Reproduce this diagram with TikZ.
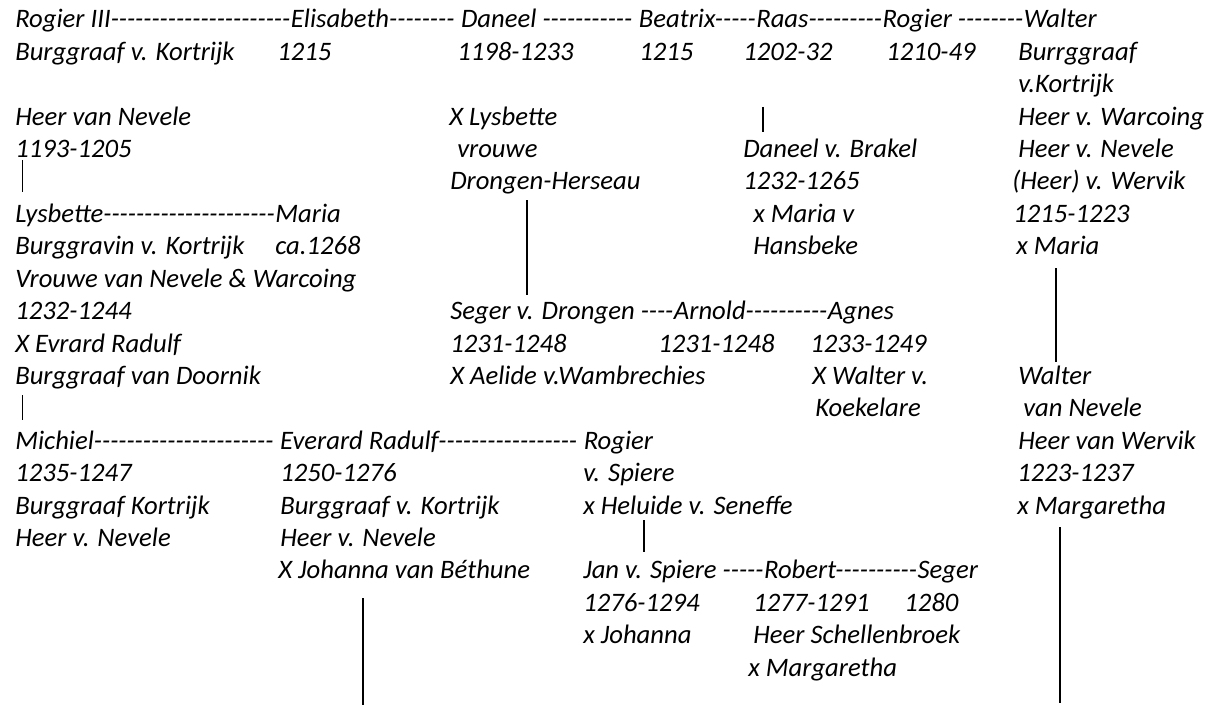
\documentclass[tikz,border=0pt]{standalone}
\usepackage{fontspec}
\setmainfont{Carlito}[Ligatures=TeXOff]
\usepackage{tikz}

\begin{document}
\begin{tikzpicture}[x=0.75pt,y=-0.75pt]
    \tikzstyle{every node}+=[inner sep=0pt, anchor=base west, font=\fontsize{20}{24}\selectfont\itshape]
    \tikzstyle{bar}=[black, line width=1.1pt]
    \useasboundingbox (0,0) rectangle (1218,710);
    % top row
    \node (rogier) at (15,28) {Rogier III----------------------};
    \node (elisabeth) at (rogier.base east) {Elisabeth--------\ \mbox{}};
    \node (daneel) at (elisabeth.base east) {Daneel -----------\ \mbox{}};
    \node (beatrix) at (daneel.base east) {Beatrix-----};
    \node (raas) at (beatrix.base east) {Raas---------};
    \node (rogierb) at (raas.base east) {Rogier --------};
    \node (walter) at (rogierb.base east) {Walter};
    \node (rogier2) at (15,60.4) {Burggraaf v. Kortrijk};
    \node (rogier3) at (15,125.2) {Heer van Nevele};
    \node (rogier4) at (15,157.6) {1193-1205};
    \node (elisabeth2) at (277,60.4) {1215};
    \node (daneel2) at (457,60.4) {1198-1233};
    \node (daneel3) at (449,125.2) {X Lysbette};
    \node (daneel4) at (457,157.6) {vrouwe};
    \node (daneel5) at (450,190) {Drongen-Herseau};
    \node (beatrix2) at (639,60.4) {1215};
    \node (raas2) at (743,60.4) {1202-32};
    \node (rogierb2) at (886,60.4) {1210-49};
    \node (walter2) at (1018,60.4) {Burrggraaf};
    \node (walter3) at (1018,92.8) {v.Kortrijk};
    \node (walter4) at (1018,125.2) {Heer v. Warcoing};
    \node (walter5) at (1018,157.6) {Heer v. Nevele};
    \node (walter6) at (1012,190) {(Heer) v. Wervik};
    \node (walter7) at (1013,222.4) {1215-1223};
    \node (walter8) at (1016,254.8) {x Maria};
    % Daneel v. Brakel
    \node (brakel) at (743,157.6) {Daneel v. Brakel};
    \node (brakel2) at (743,190) {1232-1265};
    \node (brakel3) at (753,222.4) {x Maria v};
    \node (brakel4) at (753,254.8) {Hansbeke};
    % Lysbette
    \node (lysbette) at (15,222.4) {Lysbette---------------------};
    \node (maria) at (lysbette.base east) {Maria};
    \node (lysbette2) at (15,254.8) {Burggravin v. Kortrijk};
    \node (maria2) at (275,254.8) {ca.1268};
    \node (lysbette3) at (15,287.2) {Vrouwe van Nevele \& Warcoing};
    \node (lysbette4) at (15,319.6) {1232-1244};
    \node (lysbette5) at (15,352) {X Evrard Radulf};
    \node (lysbette6) at (15,384.4) {Burggraaf van Doornik};
    % Seger v. Drongen
    \node (seger) at (450,319.6) {Seger v. Drongen ----};
    \node (arnold) at (seger.base east) {Arnold----------};
    \node (agnes) at (arnold.base east) {Agnes};
    \node (seger2) at (450,352) {1231-1248};
    \node (seger3) at (450,384.4) {X Aelide v.Wambrechies};
    \node (arnold2) at (658,352) {1231-1248};
    \node (agnes2) at (810,352) {1233-1249};
    \node (agnes3) at (812,384.4) {X Walter v.};
    \node (agnes4) at (815,416.8) {Koekelare};
    % Walter van Nevele
    \node (waltern) at (1018,384.4) {Walter};
    \node (waltern2) at (1023,416.8) {van Nevele};
    \node (waltern3) at (1018,449.2) {Heer van Wervik};
    \node (waltern4) at (1017,481.6) {1223-1237};
    \node (waltern5) at (1017,514) {x Margaretha};
    % Michiel
    \node (michiel) at (15,449.2) {Michiel----------------------\ \mbox{}};
    \node (everard) at (michiel.base east) {Everard Radulf-----------------\ \mbox{}};
    \node (rogierc) at (everard.base east) {Rogier};
    \node (michiel2) at (15,481.6) {1235-1247};
    \node (michiel3) at (15,514) {Burggraaf Kortrijk};
    \node (michiel4) at (15,546.4) {Heer v. Nevele};
    \node (everard2) at (280,481.6) {1250-1276};
    \node (everard3) at (280,514) {Burggraaf v. Kortrijk};
    \node (everard4) at (280,546.4) {Heer v. Nevele};
    \node (everard5) at (278,578.8) {X Johanna van Béthune};
    \node (rogierc2) at (583,481.6) {v. Spiere};
    \node (rogierc3) at (583,514) {x Heluide v. Seneffe};
    % Jan v. Spiere
    \node (jan) at (583,578.8) {Jan v. Spiere -----};
    \node (robert) at (jan.base east) {Robert----------};
    \node (segerb) at (robert.base east) {Seger};
    \node (jan2) at (583,611.2) {1276-1294};
    \node (jan3) at (583,643.6) {x Johanna};
    \node (robert2) at (753,611.2) {1277-1291};
    \node (robert3) at (753,643.6) {Heer Schellenbroek};
    \node (robert4) at (748,676) {x Margaretha};
    \node (segerb2) at (904,611.2) {1280};
    % bars
    \coordinate (l1a) at (22.7,160);
    \coordinate (l1b) at (22.7,192);
    \coordinate (l2a) at (22.7,395);
    \coordinate (l2b) at (22.7,420);
    \coordinate (da) at (527,200);
    \coordinate (db) at (527,295);
    \coordinate (ra) at (763,107);
    \coordinate (rb) at (763,132);
    \coordinate (wa) at (1056,268);
    \coordinate (wb) at (1056,362);
    \coordinate (sa) at (644,520);
    \coordinate (sb) at (644,552);
    \coordinate (ea) at (363,598);
    \coordinate (eb) at (363,705);
    \coordinate (na) at (1060,527);
    \coordinate (nb) at (1060,703);
    \draw [bar] (l1a) -- (l1b);
    \draw [bar] (l2a) -- (l2b);
    \draw [bar] (da) -- (db);
    \draw [bar] (ra) -- (rb);
    \draw [bar] (wa) -- (wb);
    \draw [bar] (sa) -- (sb);
    \draw [bar] (ea) -- (eb);
    \draw [bar] (na) -- (nb);
\end{tikzpicture}
\end{document}
